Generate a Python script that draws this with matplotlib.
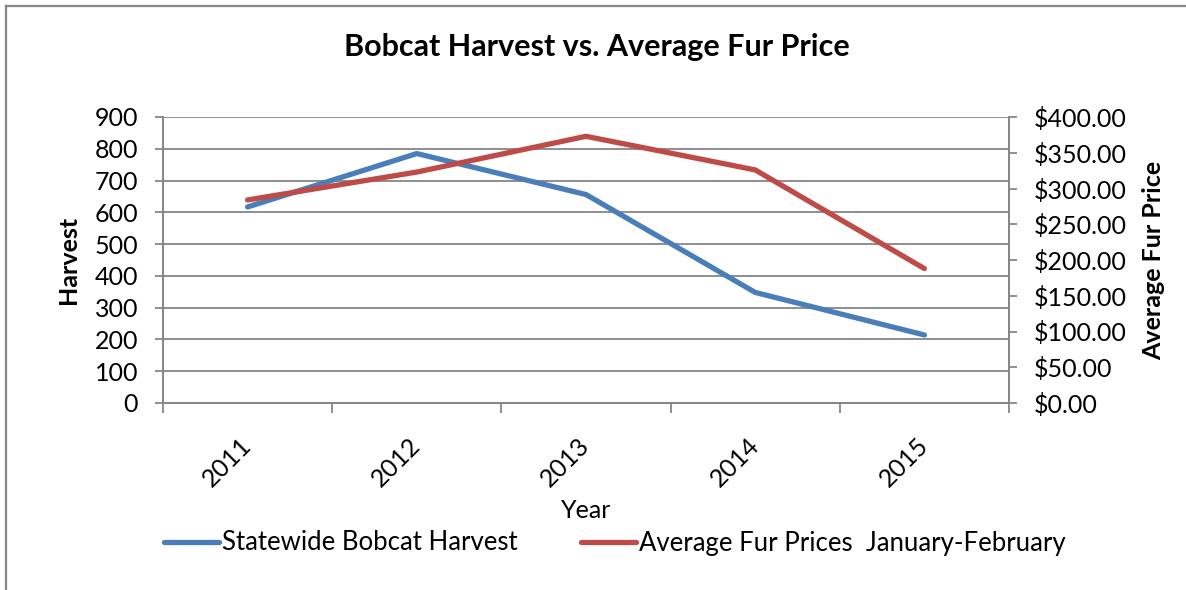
import matplotlib
matplotlib.use("Agg")
import matplotlib.pyplot as plt
from matplotlib.lines import Line2D
from matplotlib.ticker import FuncFormatter, MultipleLocator, FixedLocator

plt.rcParams['font.family'] = ['Lato', 'DejaVu Sans']

years = ['2011', '2012', '2013', '2014', '2015']
harvest = [617, 785, 656, 348, 214]
fur_price = [284, 323, 373, 326, 188]

title = 'Bobcat Harvest vs. Average Fur Price'
harvest_label = 'Statewide Bobcat Harvest'
price_label = 'Average Fur Prices  January-February'

W, H = 1186, 590
fig = plt.figure(figsize=(W / 100, H / 100), dpi=100)
grid_c = '#868686'
blue = '#4A7EBB'
red = '#BE4B48'

L, R, T, B = 163, 1009, 117, 403
ax = fig.add_axes([L / W, 1 - B / H, (R - L) / W, (B - T) / H])
ax2 = ax.twinx()

x = list(range(len(years)))
ax.plot(x, harvest, color=blue, lw=3.8, solid_capstyle='round', solid_joinstyle='round', zorder=3)
ax2.plot(x, fur_price, color=red, lw=3.8, solid_capstyle='round', solid_joinstyle='round', zorder=3)

ax.set_xlim(-0.5, len(years) - 0.5)
ax.set_ylim(0, 900)
ax2.set_ylim(0, 400)
ax.yaxis.set_major_locator(MultipleLocator(100))
ax2.yaxis.set_major_locator(MultipleLocator(50))
ax2.yaxis.set_major_formatter(FuncFormatter(lambda v, p: f'${v:,.2f}'))

ax.grid(axis='y', color=grid_c, lw=1.3)
ax.set_axisbelow(True)

fs = 18
ax.set_xticks(x)
ax.set_xticklabels(years, rotation=45, ha='right', va='center', rotation_mode='anchor')
ax.xaxis.set_minor_locator(FixedLocator([i - 0.5 for i in range(len(years) + 1)]))
ax.tick_params(axis='x', which='major', length=0, pad=28, labelsize=fs)
ax.tick_params(axis='x', which='minor', length=7, width=1.3, color=grid_c)
ax.tick_params(axis='y', length=6, width=1.3, color=grid_c, labelsize=fs, pad=12)
ax2.tick_params(axis='y', length=6, width=1.3, color=grid_c, labelsize=fs, pad=12)

for a in (ax, ax2):
    a.spines['top'].set_visible(False)
    for s in ('left', 'right', 'bottom'):
        a.spines[s].set_color(grid_c)
        a.spines[s].set_linewidth(1.3)

ax.set_ylabel('Harvest', fontsize=fs, fontweight='bold')
ax.yaxis.set_label_coords((80 - L) / (R - L), 0.5)
ax2.set_ylabel('Average Fur Price', fontsize=fs, fontweight='bold')
ax2.yaxis.set_label_coords((1142 - L) / (R - L), 0.5)
ax.set_xlabel('Year', fontsize=fs)
ax.xaxis.set_label_coords(0.5, -(499 - B) / (B - T))

fig.text(597 / W, 1 - 47 / H, title, ha='center', va='center', fontsize=22, fontweight='bold')

handles = [Line2D([], [], color=blue, lw=3.8, solid_capstyle='round'),
           Line2D([], [], color=red, lw=3.8, solid_capstyle='round')]
fig.legend(handles, [harvest_label, price_label], loc='center left',
           bbox_to_anchor=(164 / W, 1 - 543 / H), ncol=2, frameon=False,
           fontsize=18.5, handlelength=2.15, handletextpad=0.12, columnspacing=2.45,
           borderaxespad=0, borderpad=0)

# chart border (left and top edges visible)
fig.add_artist(Line2D([6 / W, 6 / W], [0, 1 - 5.5 / H], color=grid_c, lw=1.6))
fig.add_artist(Line2D([6 / W, 1185 / W], [1 - 5.5 / H, 1 - 5.5 / H], color=grid_c, lw=1.6))

fig.savefig('out.png', dpi=100)
